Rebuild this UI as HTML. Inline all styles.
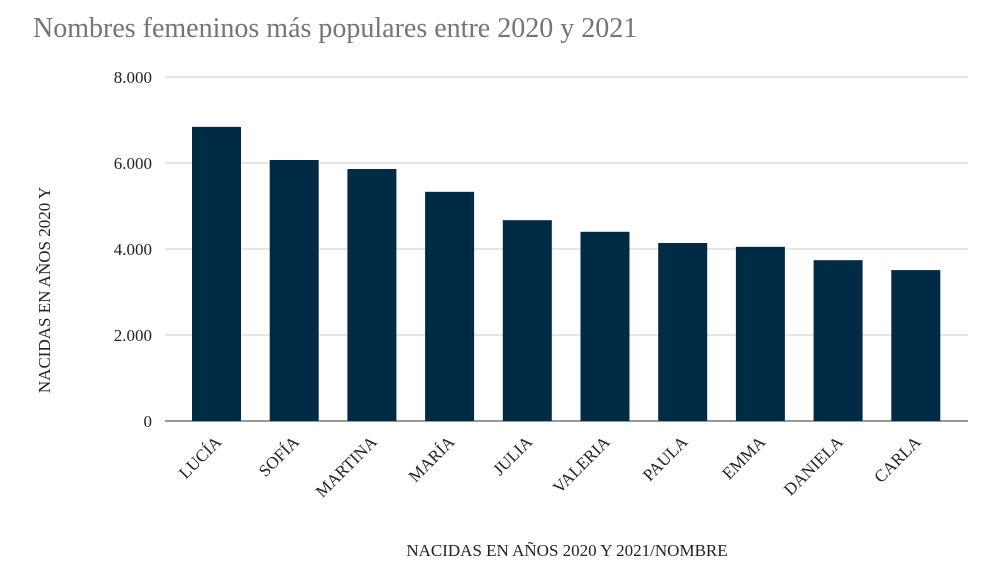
<!DOCTYPE html>
<html><head><meta charset="utf-8"><style>
body{margin:0;background:#fff;width:1000px;height:567px;overflow:hidden;font-family:"Liberation Serif",serif}
</style></head><body>
<svg width="1000" height="567" id="c">
<text x="33" y="37" font-size="28" fill="#757575">Nombres femeninos más populares entre 2020 y 2021</text>
<text transform="translate(50,290) rotate(-90)" text-anchor="middle" font-size="17" fill="#222">NACIDAS EN AÑOS 2020 Y</text>
<text x="567" y="556" text-anchor="middle" font-size="17" fill="#222">NACIDAS EN AÑOS 2020 Y 2021/NOMBRE</text>
<g id="grid"></g><g id="bars"></g><g id="labels"></g>
</svg>
<script>
const categories=["LUCÍA","SOFÍA","MARTINA","MARÍA","JULIA","VALERIA","PAULA","EMMA","DANIELA","CARLA"];
const values=[6840,6070,5860,5330,4670,4400,4140,4050,3740,3510];
const yTicks=[0,2000,4000,6000,8000];
const yTickLabels=["0","2.000","4.000","6.000","8.000"];
const NS="http://www.w3.org/2000/svg";
const y0=421,yTop=77,yMax=8000,left=165,right=968,band=77.7,firstC=216.5,bw=49;
const y=v=>y0-(v/yMax)*(y0-yTop);
const x=i=>firstC+i*band;
function mk(t,a,p){const e=document.createElementNS(NS,t);for(const k in a)e.setAttribute(k,a[k]);p.appendChild(e);return e;}
const g=document.getElementById('grid'),b=document.getElementById('bars'),l=document.getElementById('labels');
yTicks.forEach((t,i)=>{
 const ln=mk('line',{x1:left,x2:right,y1:y(t),y2:y(t),stroke:t===0?'#333':'#ccc','stroke-width':1},g);
 
 
 const tx=mk('text',{x:152,y:y(t)+6,'text-anchor':'end','font-size':17,fill:'#222'},g);
 tx.textContent=yTickLabels[i];
 
 
});
categories.forEach((c,i)=>{
 const r=mk('rect',{x:x(i)-bw/2,y:y(values[i]),width:bw,height:y0-y(values[i]),fill:'#002b45'},b);
 
 
 const t=mk('text',{transform:`translate(${x(i)+6},${y0+22}) rotate(-45)`,'text-anchor':'end','font-size':17,fill:'#222'},l);
 t.textContent=c;
 
 
});
</script>
</body></html>
